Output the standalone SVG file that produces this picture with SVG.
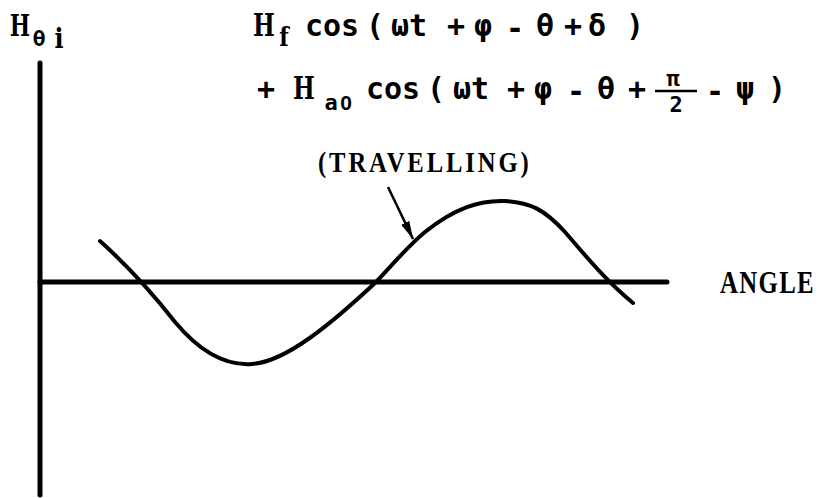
<svg xmlns="http://www.w3.org/2000/svg" width="820" height="498" viewBox="0 0 820 498">
  <style>
    .f { font-family: "DejaVu Sans Mono", "Liberation Mono", monospace; font-weight: bold; font-size: 30px; fill: #000; text-anchor: middle; }
    .sub { font-family: "DejaVu Sans Mono", "Liberation Mono", monospace; font-weight: bold; font-size: 22px; fill: #000; text-anchor: middle; }
    .tw { font-family: "Liberation Serif", "DejaVu Serif", serif; font-weight: bold; fill: #000; }
    .twm { font-family: "DejaVu Serif", "Liberation Serif", serif; font-weight: bold; fill: #000; text-anchor: middle; }
    .axis { stroke: #000; stroke-width: 5; stroke-linecap: round; fill: none; }
    .curve { stroke: #000; stroke-width: 4; stroke-linecap: round; stroke-linejoin: round; fill: none; }
    .lead { stroke: #000; stroke-width: 2.5; fill: none; }
  </style>
  <defs>
    <marker id="arrowhead" markerUnits="userSpaceOnUse" markerWidth="20" markerHeight="12" refX="18" refY="6" orient="auto">
      <path d="M0,1.5 L18,6 L0,10.5 Z" fill="#000"/>
    </marker>
  </defs>
  <rect width="820" height="498" fill="#fff"/>

  <g id="axes">
    <line class="axis" x1="40" y1="63" x2="40" y2="495"/>
    <line class="axis" x1="40" y1="282" x2="667" y2="282"/>
  </g>

  <g id="y-label">
    <text class="twm" font-size="30" transform="translate(20,36) scale(0.72,1)">H</text>
    <text class="sub" x="39" y="46" font-size="20">θ</text>
    <text class="twm" font-size="28" transform="translate(59,48) scale(0.85,1)">i</text>
  </g>

  <g id="x-label">
    <text class="tw" font-size="31" transform="translate(720,293) scale(0.8,1)" textLength="117" lengthAdjust="spacing">ANGLE</text>
  </g>

  <g id="formula-line1">
    <text class="twm" font-size="32" transform="translate(264,36) scale(0.72,1)">H</text>
    <text class="twm" font-size="26" transform="translate(284,46) scale(0.85,1)">f</text>
    <text class="f" x="332" y="36">cos</text>
    <text class="f" x="375" y="36">(</text>
    <text class="f" x="409" y="36">ωt</text>
    <text class="f" x="456" y="36">+</text>
    <text class="f" x="483" y="36">φ</text>
    <text class="f" x="515" y="39">-</text>
    <text class="f" x="545" y="36">θ</text>
    <text class="f" x="573" y="36">+</text>
    <text class="f" x="597" y="36">δ</text>
    <text class="f" x="635" y="36">)</text>
  </g>

  <g id="formula-line2">
    <text class="f" x="266" y="99">+</text>
    <text class="twm" font-size="32" transform="translate(304,99) scale(0.72,1)">H</text>
    <text class="sub" x="331" y="110">a</text>
    <text x="346" y="110" font-family="Liberation Sans, Arial, sans-serif" font-weight="bold" font-size="21" text-anchor="middle">0</text>
    <text class="f" x="393" y="99">cos</text>
    <text class="f" x="436" y="99">(</text>
    <text class="f" x="471" y="99">ωt</text>
    <text class="f" x="516" y="99">+</text>
    <text class="f" x="543" y="99">φ</text>
    <text class="f" x="576" y="102">-</text>
    <text class="f" x="606" y="99">θ</text>
    <text class="f" x="637" y="99">+</text>
    <text class="sub" x="673" y="86" font-size="24">π</text>
    <line x1="655" y1="91" x2="697" y2="91" stroke="#000" stroke-width="2.5"/>
    <text class="sub" x="676" y="112" font-size="24">2</text>
    <text class="f" x="715" y="102">-</text>
    <text class="f" x="745" y="99">ψ</text>
    <text class="f" x="777" y="99">)</text>
  </g>

  <g id="travelling-label">
    <text class="tw" font-size="29" transform="translate(318,172) scale(0.85,1)" textLength="248" lengthAdjust="spacing">(TRAVELLING)</text>
  </g>

  <g id="wave">
    <path class="curve" d="M100,241 C130,268 150,290 175,322 C200,352 225,366 252,364 C285,362 330,325 375,283 C395,262 408,246 425,232 C455,208 480,200 505,201 C530,202 545,210 565,232 C585,255 605,280 633,303"/>
  </g>

  <g id="connectors">
    <line class="lead" x1="388" y1="187" x2="413" y2="239" marker-end="url(#arrowhead)"/>
  </g>
</svg>
